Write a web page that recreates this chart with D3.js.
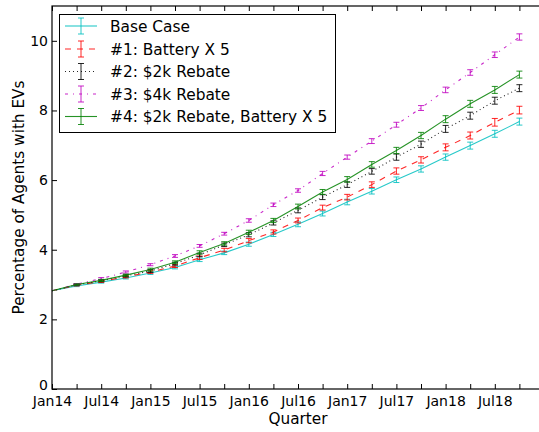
<!DOCTYPE html>
<html>
<head>
<meta charset="utf-8">
<script src="https://cdn.jsdelivr.net/npm/d3@7"></script>
<style>
  html, body { margin: 0; padding: 0; background: #fff; }
  svg { display: block; font-family: "DejaVu Sans", sans-serif; }
</style>
</head>
<body>
<svg id="chart" width="539" height="432"></svg>
<script>
// Quarterly periods (index 0 = Jan14)
const quarters = ["Jan14","Apr14","Jul14","Oct14","Jan15","Apr15","Jul15","Oct15",
                  "Jan16","Apr16","Jul16","Oct16","Jan17","Apr17","Jul17","Oct17",
                  "Jan18","Apr18","Jul18","Oct18"];
const tickLabels = ["Jan14","Jul14","Jan15","Jul15","Jan16","Jul16","Jan17","Jul17","Jan18","Jul18"];
const yTicks = [0, 2, 4, 6, 8, 10];

// Mean share of agents owning an EV (%) per scenario
const baseCase   = [2.82, 2.96, 3.07, 3.19, 3.33, 3.49, 3.71, 3.91, 4.16, 4.44, 4.73, 5.04, 5.37, 5.68, 6.01, 6.32, 6.66, 6.99, 7.33, 7.68];
const battery5   = [2.82, 2.98, 3.09, 3.22, 3.36, 3.53, 3.77, 3.99, 4.26, 4.51, 4.84, 5.21, 5.51, 5.87, 6.26, 6.58, 6.94, 7.28, 7.66, 8.01];
const rebate2k   = [2.82, 2.99, 3.11, 3.25, 3.39, 3.60, 3.85, 4.14, 4.43, 4.77, 5.13, 5.51, 5.87, 6.25, 6.66, 7.03, 7.47, 7.85, 8.28, 8.64];
const rebate4k   = [2.82, 3.01, 3.17, 3.36, 3.57, 3.82, 4.11, 4.46, 4.84, 5.29, 5.70, 6.19, 6.66, 7.12, 7.59, 8.07, 8.59, 9.09, 9.60, 10.11];
const rebBatt    = [2.82, 3.00, 3.12, 3.27, 3.43, 3.64, 3.92, 4.18, 4.50, 4.84, 5.24, 5.66, 6.02, 6.45, 6.85, 7.28, 7.75, 8.19, 8.59, 9.03];

// Half-width of the error bar at each quarter (%)
const errBase    = [0, 0.02, 0.03, 0.03, 0.04, 0.04, 0.05, 0.05, 0.06, 0.06, 0.07, 0.07, 0.08, 0.08, 0.08, 0.09, 0.09, 0.10, 0.10, 0.10];
const errBattery = [0, 0.02, 0.03, 0.03, 0.04, 0.04, 0.05, 0.05, 0.06, 0.06, 0.07, 0.07, 0.08, 0.08, 0.09, 0.09, 0.10, 0.10, 0.11, 0.11];
const errReb2k   = [0, 0.02, 0.03, 0.03, 0.04, 0.04, 0.05, 0.05, 0.06, 0.06, 0.07, 0.07, 0.08, 0.08, 0.09, 0.09, 0.10, 0.10, 0.10, 0.10];
const errReb4k   = [0, 0.02, 0.03, 0.03, 0.03, 0.04, 0.04, 0.04, 0.05, 0.05, 0.05, 0.06, 0.06, 0.07, 0.07, 0.07, 0.08, 0.08, 0.08, 0.09];
const errRebBatt = [0, 0.02, 0.03, 0.03, 0.04, 0.04, 0.05, 0.05, 0.06, 0.06, 0.07, 0.07, 0.08, 0.08, 0.09, 0.09, 0.10, 0.10, 0.10, 0.10];

const seriesNames  = ["Base Case", "#1: Battery X 5", "#2: $2k Rebate", "#3: $4k Rebate", "#4: $2k Rebate, Battery X 5"];
const seriesValues = [baseCase, battery5, rebate2k, rebate4k, rebBatt];
const seriesErrors = [errBase, errBattery, errReb2k, errReb4k, errRebBatt];
const seriesColors = ["#00bfbf", "#ff0000", "#000000", "#bf00bf", "#008000"];
const seriesDashes = [null, "6,6", "1,3", "3,5,1,5", null];

const svg = d3.select("#chart");
const mLeft = 52, mTop = 6, mBottom = 389, mRight = 544;

const x = d3.scaleLinear().domain([0, 20]).range([mLeft, mRight]);
const y = d3.scaleLinear().domain([0, 11]).range([mBottom, mTop]);

const plot = svg.append("g");

// Frame
svg.append("rect")
  .attr("x", mLeft).attr("y", mTop)
  .attr("width", mRight - mLeft).attr("height", mBottom - mTop)
  .attr("fill", "none").attr("stroke", "#000").attr("stroke-width", 1.2);

// Axes with inward ticks
const xAxis = d3.axisBottom(x)
  .tickValues(d3.range(0, 20))
  .tickSizeInner(-5).tickSizeOuter(0).tickPadding(7)
  .tickFormat(i => (i % 2 === 0 ? tickLabels[i / 2] : ""));
const gx = svg.append("g").attr("transform", `translate(0,${mBottom})`).call(xAxis);

const xTop = d3.axisTop(x).tickValues(d3.range(0, 20)).tickSizeInner(-5).tickSizeOuter(0).tickFormat("");
const gxt = svg.append("g").attr("transform", `translate(0,${mTop})`).call(xTop);

const yAxis = d3.axisLeft(y).tickValues(yTicks).tickSizeInner(-5).tickSizeOuter(0).tickPadding(4);
const gy = svg.append("g").attr("transform", `translate(${mLeft},0)`).call(yAxis);

[gx, gxt, gy].forEach(g => {
  g.select(".domain").remove();
  g.selectAll(".tick line").attr("stroke", "#000");
  g.selectAll("text").attr("font-size", 14).attr("fill", "#000")
    .attr("font-family", "DejaVu Sans, sans-serif");
});
// lift the "0" label so it clears the first month label
gy.selectAll(".tick").filter(d => d === 0).select("text").attr("dy", "0.02em");

// Series lines and error bars
const line = d3.line().x((d, i) => x(i)).y(d => y(d));
seriesValues.forEach((vals, s) => {
  const g = plot.append("g");
  g.append("path")
    .attr("d", line(vals))
    .attr("fill", "none")
    .attr("stroke", seriesColors[s])
    .attr("stroke-width", 1.1)
    .attr("stroke-opacity", 0.85)
    .attr("stroke-dasharray", seriesDashes[s]);
  const errs = seriesErrors[s];
  vals.forEach((v, i) => {
    if (i === 0) return;
    const cx = x(i), y1 = y(v - errs[i]), y2 = y(v + errs[i]);
    g.append("path")
      .attr("d", `M${cx},${y1}V${y2}M${cx - 3},${y1}H${cx + 3}M${cx - 3},${y2}H${cx + 3}`)
      .attr("fill", "none")
      .attr("stroke", seriesColors[s])
      .attr("stroke-opacity", 0.85)
      .attr("stroke-width", 1);
  });
});

// Axis titles
svg.append("text")
  .attr("x", (mLeft + mRight) / 2).attr("y", 424)
  .attr("text-anchor", "middle").attr("font-size", 15.3).attr("fill", "#000")
  .text("Quarter");
svg.append("text")
  .attr("transform", `translate(24,${(mTop + mBottom) / 2}) rotate(-90)`)
  .attr("text-anchor", "middle").attr("font-size", 15.3).attr("fill", "#000")
  .text("Percentage of Agents with EVs");

// Legend
const lg = svg.append("g");
lg.append("rect")
  .attr("x", 59.5).attr("y", 14.5).attr("width", 276).attr("height", 118)
  .attr("fill", "#fff").attr("stroke", "#000").attr("stroke-width", 1);
const rowY = [26, 49, 71.5, 94, 116.5];
seriesNames.forEach((name, s) => {
  const yy = rowY[s];
  lg.append("line")
    .attr("x1", 65).attr("x2", 97).attr("y1", yy).attr("y2", yy)
    .attr("stroke", seriesColors[s]).attr("stroke-width", 1.1)
    .attr("stroke-opacity", 0.85)
    .attr("stroke-dasharray", seriesDashes[s]);
  lg.append("path")
    .attr("d", `M81,${yy - 8}V${yy + 8}M78,${yy - 8}H84M78,${yy + 8}H84`)
    .attr("fill", "none").attr("stroke", seriesColors[s])
    .attr("stroke-opacity", 0.85).attr("stroke-width", 1);
  lg.append("text")
    .attr("x", 110).attr("y", yy).attr("dy", "0.36em")
    .attr("font-size", 15.4).attr("fill", "#000")
    .text(name);
});
</script>
</body>
</html>
